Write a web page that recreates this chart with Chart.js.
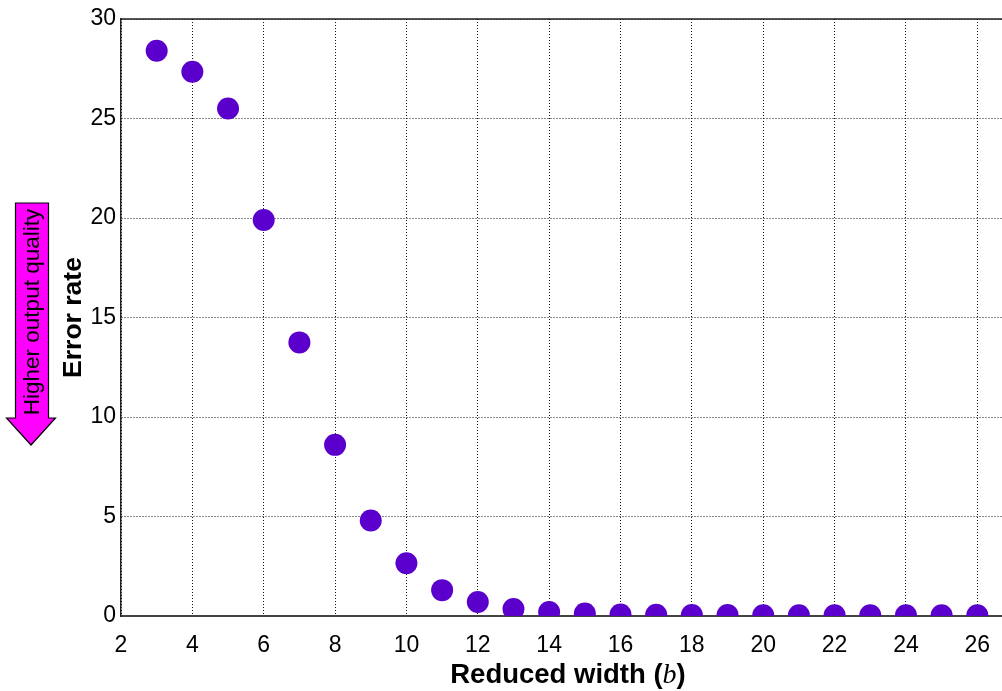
<!DOCTYPE html>
<html lang="en">
<head>
    <meta charset="UTF-8">
    <title>Error rate vs reduced width</title>
    <script src="https://cdn.jsdelivr.net/npm/chart.js"></script>
    <style>
        html, body { margin: 0; padding: 0; background: #fff; overflow: hidden; }
        #wrap { width: 1002px; height: 691px; overflow: hidden; }
    </style>
</head>
<body>

<!-- canvas is a bit wider than the window: the plot runs off the right edge like the reference -->
<div id="wrap"><canvas id="myChart" width="1014" height="691"></canvas></div>

<script>
    // values
    const widths = [3, 4, 5, 6, 7, 8, 9, 10, 11, 12, 13, 14, 15, 16, 17, 18, 19, 20, 21, 22, 23, 24, 25, 26];
    const errorRates = [28.4, 27.35, 25.5, 19.9, 13.75, 8.6, 4.8, 2.65, 1.3, 0.7, 0.35, 0.2, 0.12, 0.08,
                        0.06, 0.05, 0.05, 0.04, 0.04, 0.04, 0.04, 0.04, 0.04, 0.04];
    const xTicks = [2, 4, 6, 8, 10, 12, 14, 16, 18, 20, 22, 24, 26];
    const yTicks = [0, 5, 10, 15, 20, 25, 30];

    const sans = "'Liberation Sans', Arial, Helvetica, sans-serif";
    const points = widths.map((w, i) => ({ x: w, y: errorRates[i] }));

    // frame top line, axis titles and the arrow on the left
    const extras = {
        id: 'extras',
        afterDatasetsDraw(chart) {
            const ctx = chart.ctx;
            const a = chart.chartArea;
            ctx.save();
            ctx.strokeStyle = '#222';
            ctx.lineWidth = 1.5;
            ctx.beginPath();
            ctx.moveTo(a.left, a.top);
            ctx.lineTo(chart.width, a.top);
            ctx.stroke();
            ctx.restore();
        },
        afterDraw(chart) {
            const ctx = chart.ctx;
            const a = chart.chartArea;
            ctx.save();
            ctx.fillStyle = '#000';

            // x title with italic b
            const parts = [
                { t: 'Reduced width (', f: "bold 27.5px " + sans },
                { t: 'b', f: "italic 28px 'Liberation Serif', 'DejaVu Serif', serif" },
                { t: ')', f: "bold 27.5px " + sans }
            ];
            let total = 0;
            parts.forEach(p => { ctx.font = p.f; p.w = ctx.measureText(p.t).width; total += p.w; });
            let x = 568 - total / 2;
            ctx.textBaseline = 'alphabetic';
            ctx.textAlign = 'left';
            parts.forEach(p => { ctx.font = p.f; ctx.fillText(p.t, x, 683); x += p.w; });

            // y title
            ctx.save();
            ctx.translate(81, (a.top + a.bottom) / 2);
            ctx.rotate(-Math.PI / 2);
            ctx.font = "bold 26.5px " + sans;
            ctx.textAlign = 'center';
            ctx.fillText('Error rate', 0, 0);
            ctx.restore();

            // arrow
            ctx.beginPath();
            ctx.moveTo(15.5, 203);
            ctx.lineTo(48.5, 203);
            ctx.lineTo(48.5, 418);
            ctx.lineTo(55.5, 418);
            ctx.lineTo(31, 445);
            ctx.lineTo(6.5, 418);
            ctx.lineTo(15.5, 418);
            ctx.closePath();
            ctx.fillStyle = '#ff00ff';
            ctx.fill();
            ctx.strokeStyle = '#000';
            ctx.lineWidth = 1.2;
            ctx.stroke();

            ctx.save();
            ctx.translate(38.5, 312);
            ctx.rotate(-Math.PI / 2);
            ctx.font = "22.5px " + sans;
            ctx.textAlign = 'center';
            ctx.fillStyle = '#000';
            ctx.fillText('Higher output quality', 0, 0);
            ctx.restore();

            ctx.restore();
        }
    };

    const ctx = document.getElementById('myChart').getContext('2d');
    const chart = new Chart(ctx, {
        type: 'scatter',
        data: {
            datasets: [{
                label: 'Error rate',
                data: points,
                backgroundColor: '#5b00cc',
                borderWidth: 0,
                pointRadius: 11,
                pointHoverRadius: 11,
                clip: 0
            }]
        },
        options: {
            responsive: false,
            animation: false,
            events: [],
            layout: { padding: { top: 19, left: 0, right: 0, bottom: 0 } },
            plugins: {
                legend: { display: false },
                tooltip: { enabled: false }
            },
            scales: {
                x: {
                    type: 'linear',
                    min: 2,
                    max: 26.72,
                    afterBuildTicks: s => { s.ticks = xTicks.map(v => ({ value: v })); },
                    afterFit: s => {
                        s.height = 75;
                        s.paddingLeft = 0;
                        s.paddingRight = 0;
                    },
                    grid: { color: '#111', lineWidth: 1, drawTicks: false },
                    border: { display: true, color: '#444', width: 2, dash: [1, 2] },
                    ticks: {
                        color: '#000',
                        padding: 16,
                        maxRotation: 0,
                        font: { family: sans, size: 23 }
                    }
                },
                y: {
                    min: 0,
                    max: 30,
                    afterBuildTicks: s => { s.ticks = yTicks.map(v => ({ value: v })); },
                    afterFit: s => { s.width = 121; },
                    grid: { color: '#111', lineWidth: 1, drawTicks: false },
                    border: { display: true, color: '#222', width: 1.5, dash: [1, 2] },
                    ticks: {
                        color: '#000',
                        padding: 5,
                        font: { family: sans, size: 23 }
                    }
                }
            }
        },
        plugins: [extras]
    });
</script>

</body>
</html>
